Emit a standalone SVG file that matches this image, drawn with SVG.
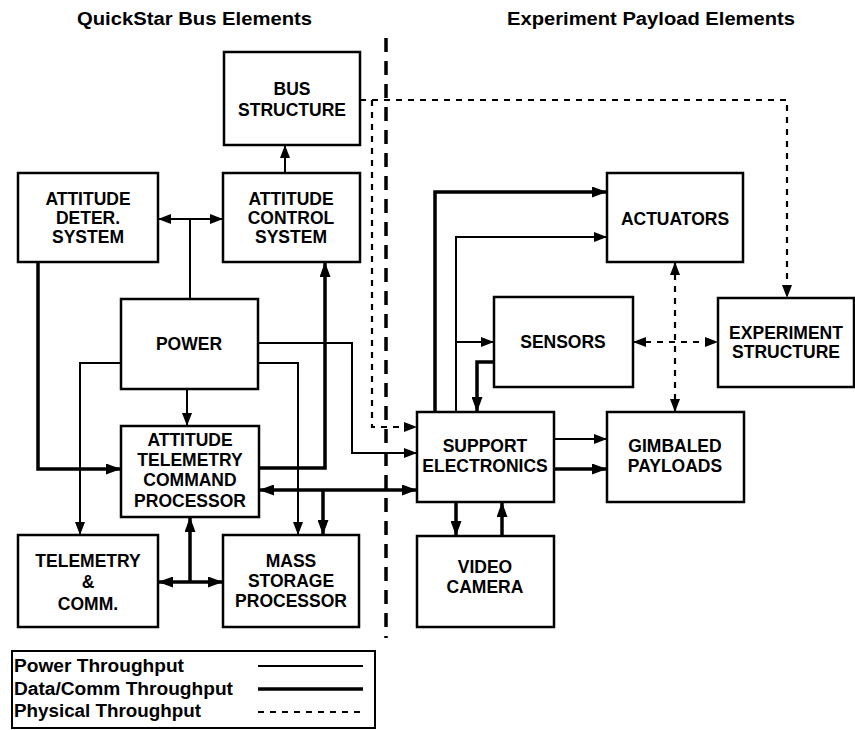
<svg xmlns="http://www.w3.org/2000/svg" width="855" height="730" viewBox="0 0 855 730">
<style>
.bx{fill:#fff;stroke:#000;stroke-width:2.5}
.t{font-family:"Liberation Sans",Arial,sans-serif;font-weight:bold;font-size:17.5px;text-anchor:middle;fill:#000}
.h{font-family:"Liberation Sans",Arial,sans-serif;font-weight:bold;font-size:18px;fill:#000}
.p{fill:none;stroke:#000;stroke-width:2}
.d{fill:none;stroke:#000;stroke-width:3.5}
.ph{fill:none;stroke:#000;stroke-width:2.2;stroke-dasharray:6 6}
.div{fill:none;stroke:#000;stroke-width:3.5;stroke-dasharray:14 9}
</style>
<defs>
<marker id="a" viewBox="0 0 13 10" refX="13" refY="5" markerWidth="13" markerHeight="10" orient="auto-start-reverse" markerUnits="userSpaceOnUse"><path d="M0,0 L13,5 L0,10 z"/></marker>
<marker id="b" viewBox="0 0 15 11" refX="15" refY="5.5" markerWidth="15" markerHeight="11" orient="auto-start-reverse" markerUnits="userSpaceOnUse"><path d="M0,0 L15,5.5 L0,11 z"/></marker>
</defs>
<rect width="855" height="730" fill="#fff"/>
<g id="titles">
<text class="h" x="77" y="25" textLength="235" lengthAdjust="spacingAndGlyphs">QuickStar Bus Elements</text>
<text class="h" x="507" y="25" textLength="288" lengthAdjust="spacingAndGlyphs">Experiment Payload Elements</text>
</g>
<g id="divider"><path class="div" d="M386,38 V638"/></g>
<g id="connectors">
<path class="p" d="M158,219 H223" marker-start="url(#a)" marker-end="url(#a)"/>
<path class="p" d="M190,219 V299"/>
<path class="p" d="M285,173 V145" marker-end="url(#a)"/>
<path class="p" d="M187,389 V426" marker-end="url(#a)"/>
<path class="p" d="M121,363 H80 V535" marker-end="url(#a)"/>
<path class="p" d="M258,343 H352 V453 H417" marker-end="url(#a)"/>
<path class="p" d="M258,363 H298 V535" marker-end="url(#a)"/>
<path class="p" d="M456,412 V237 H607" marker-end="url(#a)"/>
<path class="p" d="M456,342 H494" marker-end="url(#a)"/>
<path class="p" d="M554,439 H607" marker-end="url(#a)"/>
<path class="d" d="M38,262 V469 H121" marker-end="url(#b)"/>
<path class="d" d="M259,468 H325 V262" marker-end="url(#b)"/>
<path class="d" d="M259,490 H417" marker-start="url(#b)" marker-end="url(#b)"/>
<path class="d" d="M323,490 V535" marker-end="url(#b)"/>
<path class="d" d="M158,582 H223" marker-start="url(#b)" marker-end="url(#b)"/>
<path class="d" d="M190,582 V517" marker-end="url(#b)"/>
<path class="d" d="M435,412 V192 H607" marker-end="url(#b)"/>
<path class="d" d="M494,362 H477 V412" marker-end="url(#b)"/>
<path class="d" d="M554,469 H607" marker-end="url(#b)"/>
<path class="d" d="M456,502 V536" marker-end="url(#b)"/>
<path class="d" d="M502,536 V502" marker-end="url(#b)"/>
<path class="ph" d="M360,100 H787 V298" marker-end="url(#a)"/>
<path class="ph" d="M372,100 V427 H417" marker-end="url(#a)"/>
<path class="ph" d="M675,262 V412" marker-start="url(#a)" marker-end="url(#a)"/>
<path class="ph" d="M633,342 H718" marker-start="url(#a)" marker-end="url(#a)"/>
</g>
<g id="bus-structure"><rect class="bx" x="224" y="52" width="136" height="93"/><text class="t" x="292" y="95">BUS</text><text class="t" x="292" y="116">STRUCTURE</text></g>
<g id="attitude-deter"><rect class="bx" x="18" y="173" width="140" height="89"/><text class="t" x="88" y="205">ATTITUDE</text><text class="t" x="88" y="224">DETER.</text><text class="t" x="88" y="243">SYSTEM</text></g>
<g id="attitude-control"><rect class="bx" x="223" y="173" width="137" height="89"/><text class="t" x="291" y="205">ATTITUDE</text><text class="t" x="291" y="224">CONTROL</text><text class="t" x="291" y="243">SYSTEM</text></g>
<g id="power"><rect class="bx" x="121" y="299" width="137" height="90"/><text class="t" x="189" y="350">POWER</text></g>
<g id="atcp"><rect class="bx" x="121" y="426" width="138" height="91"/><text class="t" x="190" y="446">ATTITUDE</text><text class="t" x="190" y="466">TELEMETRY</text><text class="t" x="190" y="486">COMMAND</text><text class="t" x="190" y="507">PROCESSOR</text></g>
<g id="telemetry"><rect class="bx" x="18" y="535" width="140" height="92"/><text class="t" x="88" y="567">TELEMETRY</text><text class="t" x="88" y="588">&amp;</text><text class="t" x="88" y="610">COMM.</text></g>
<g id="mass-storage"><rect class="bx" x="223" y="535" width="136" height="92"/><text class="t" x="291" y="567">MASS</text><text class="t" x="291" y="587">STORAGE</text><text class="t" x="291" y="607">PROCESSOR</text></g>
<g id="actuators"><rect class="bx" x="607" y="173" width="136" height="89"/><text class="t" x="675" y="225">ACTUATORS</text></g>
<g id="sensors"><rect class="bx" x="494" y="297" width="139" height="90"/><text class="t" x="563" y="348">SENSORS</text></g>
<g id="experiment-structure"><rect class="bx" x="718" y="298" width="136" height="89"/><text class="t" x="786" y="339">EXPERIMENT</text><text class="t" x="786" y="358">STRUCTURE</text></g>
<g id="support-electronics"><rect class="bx" x="417" y="412" width="137" height="90"/><text class="t" x="485" y="452">SUPPORT</text><text class="t" x="485" y="472">ELECTRONICS</text></g>
<g id="gimbaled"><rect class="bx" x="607" y="412" width="137" height="90"/><text class="t" x="675" y="452">GIMBALED</text><text class="t" x="675" y="472">PAYLOADS</text></g>
<g id="video-camera"><rect class="bx" x="417" y="536" width="137" height="91"/><text class="t" x="485" y="573">VIDEO</text><text class="t" x="485" y="593">CAMERA</text></g>
<g id="legend">
<rect x="12" y="651" width="363" height="77" fill="#fff" stroke="#000" stroke-width="2"/>
<text class="h" x="14" y="672" textLength="170" lengthAdjust="spacingAndGlyphs">Power Throughput</text>
<text class="h" x="14" y="695" textLength="219" lengthAdjust="spacingAndGlyphs">Data/Comm Throughput</text>
<text class="h" x="14" y="717" textLength="187" lengthAdjust="spacingAndGlyphs">Physical Throughput</text>
<path class="p" d="M258,666 H363"/>
<path class="d" d="M258,689 H363"/>
<path class="ph" d="M258,712 H363"/>
</g>
</svg>
